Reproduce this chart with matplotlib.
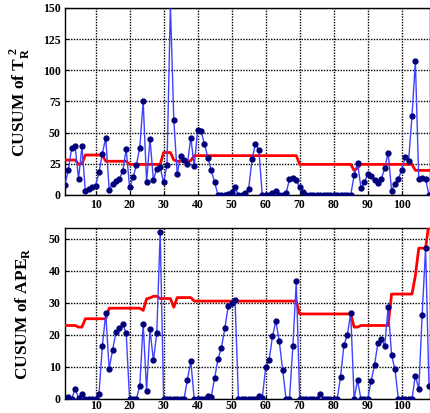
import numpy as np
import matplotlib
matplotlib.use("Agg")
import matplotlib.pyplot as plt

plt.rcParams['font.family'] = ['Liberation Serif', 'DejaVu Serif']
plt.rcParams['font.weight'] = 'bold'
plt.rcParams['mathtext.fontset'] = 'custom'
plt.rcParams['mathtext.rm'] = 'Liberation Serif:bold'
plt.rcParams['mathtext.bf'] = 'Liberation Serif:bold'

# %%
# CUSUM of T_R^2 (blue) and its limit (red)
cusum_t = [8, 20, 38, 39, 13, 39, 3, 5, 6, 7.5,
           18, 33, 46, 4, 9, 11, 13, 19, 37, 6,
           14, 24, 38, 75, 10, 45, 12, 21, 22, 10,
           24, 152, 60, 17, 31, 28, 25, 46, 23, 52,
           51, 41, 30, 20, 10, 0, 0, 0, 1, 2.5,
           6, 0, 0, 1.3, 5, 28.6, 41, 36, 0, 0,
           0, 1.6, 3, 0, 0, 1.6, 12.4, 13.5, 11.6, 6,
           2] + [0] * 14 + [
           15.6, 26, 5.7, 10, 17, 15, 11.6, 9.4, 13, 21.6,
           34, 3.5, 9, 13, 20, 30.5, 27, 63, 107, 12.4,
           13.8, 13, 0]

limite_t = ([28] * 4 + [24.5, 25] + [32] * 6 + [27] * 7 + [24.5] * 10 +
            [34] * 3 + [28] + [27] * 4 + [27.5] + [31.5] * 31 +
            [24.5] * 16 + [19.7, 21.5] + [24.5] * 16 + [19.7] * 5)

# CUSUM of APE_R (blue) and its limit (red)
cusum_ape = [0, 0.5, 0, 3.2, 0.2, 1.5, 0, 0, 0, 0,
             1.5, 16.5, 26.7, 9.4, 15.2, 20.8, 22.2, 23.3, 20.6, 0,
             0, 0, 4.1, 23.4, 2.6, 21.7, 12, 20.6, 52] + [0] * 7 + [
             6, 11.8, 0, 0, 0, 0, 0.8, 0.7, 6.5, 12.5,
             16, 22, 29, 29.8, 30.7] + [0] * 6 + [
             0.8, 0.2, 9.9, 12, 19.5, 24.3, 18, 9, 0, 0,
             16.5, 36.8] + [0] * 6 + [1.5] + [0] * 5 + [
             6.8, 16.8, 20, 26.7, 0, 5.8, 0, 0, 0, 5.7,
             10.6, 17.5, 18.6, 16.5, 28.8, 13.7, 9.3] + [0] * 5 + [
             7.3, 3, 26.3, 47, 4]

limite_ape = ([22.9] * 4 + [22.4] * 2 + [25] * 7 + [28.3] * 10 + [27.6] +
              [31.2, 31.5, 32, 32] + [31.3] * 4 + [28.6] + [31.6] * 5 +
              [30.5] * 31 + [26.5] * 16 + [22.4] * 2 + [22.9] * 9 +
              [32.7] * 7 + [38.4] + [47] * 3 + [55])

amostras = np.arange(1, len(cusum_t) + 1)

# %%
fig = plt.figure(figsize=(4.3, 4.13), dpi=100)
ax1 = fig.add_axes([0.151, 0.528, 0.849, 0.453])
ax2 = fig.add_axes([0.151, 0.034, 0.849, 0.414])

paineis = [
    (ax1, cusum_t, limite_t, (0, 150), np.arange(0, 151, 25), r'CUSUM of T$_\mathrm{R}^{\ \mathrm{2}}$'),
    (ax2, cusum_ape, limite_ape, (0, 53.3), np.arange(0, 51, 10), r'CUSUM of APE$_\mathrm{R}$'),
]

for ax, azul, vermelho, ylim, yticks, rotulo in paineis:
    ax.plot(amostras, vermelho, color='red', lw=2, zorder=3)
    ax.plot(amostras, azul, color='#4040ff', lw=1, marker='o', markersize=3.5,
            markerfacecolor='#00007a', markeredgecolor='#00007a', zorder=4)
    ax.set_xlim(1, 108.3)
    ax.set_ylim(*ylim)
    ax.set_xticks(np.arange(10, 101, 10))
    ax.set_yticks(yticks)
    ax.grid(True, color='black', linestyle=(0, (1, 1)), lw=1)
    ax.tick_params(direction='in', length=3, labelsize=8.5, pad=3)
    for lab in ax.get_xticklabels() + ax.get_yticklabels():
        lab.set_fontweight('bold')
    for s in ax.spines.values():
        s.set_linewidth(1)
    ax.set_ylabel(rotulo, fontsize=12.5, fontweight='bold')
    ax.yaxis.set_label_coords(-0.09, 0.5)

ax2.tick_params(axis='x', pad=1)

fig.savefig("out.png", dpi=100)
